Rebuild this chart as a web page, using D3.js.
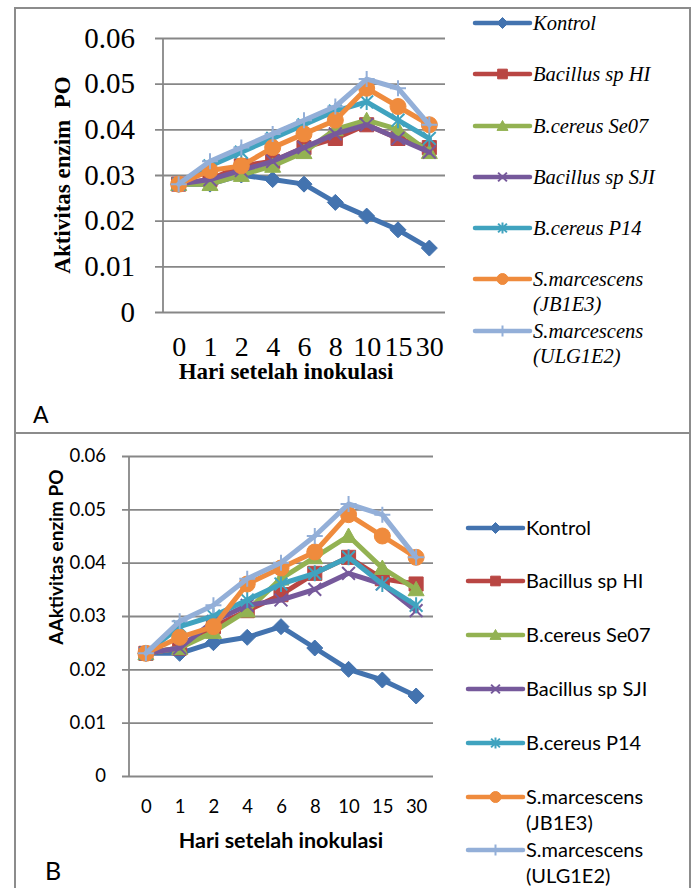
<!DOCTYPE html>
<html>
<head>
<meta charset="utf-8">
<script src="https://cdn.jsdelivr.net/npm/d3@7"></script>
<style>
  body { margin: 0; background: #fff; }
  svg { display: block; }
</style>
</head>
<body>
<svg id="chart" width="696" height="888"></svg>
<script>
// Aktivitas enzim PO, two panels (A and B), 7 series each

const days = ["0", "1", "2", "4", "6", "8", "10", "15", "30"];
const yTicks = [0, 0.01, 0.02, 0.03, 0.04, 0.05, 0.06];

const seriesNames = ["Kontrol", "Bacillus sp HI", "B.cereus Se07", "Bacillus sp SJI",
    "B.cereus P14", "S.marcescens (JB1E3)", "S.marcescens (ULG1E2)"];
const seriesColors = ["#4373AF", "#B94643", "#93B252", "#76599B", "#40A3BF", "#EF8B3D", "#93AFD8"];
const seriesMarkers = ["diamond", "square", "triangle", "x", "star", "circle", "plus"];

// Panel A values
const aKontrol = [0.028, 0.028, 0.030, 0.029, 0.028, 0.024, 0.021, 0.018, 0.014];
const aHI      = [0.028, 0.029, 0.032, 0.033, 0.036, 0.038, 0.041, 0.038, 0.036];
const aSe07    = [0.028, 0.028, 0.030, 0.032, 0.035, 0.040, 0.042, 0.040, 0.035];
const aSJI     = [0.028, 0.029, 0.031, 0.033, 0.036, 0.039, 0.041, 0.038, 0.035];
const aP14     = [0.028, 0.032, 0.035, 0.038, 0.041, 0.044, 0.046, 0.042, 0.038];
const aJB1E3   = [0.028, 0.031, 0.032, 0.036, 0.039, 0.042, 0.049, 0.045, 0.041];
const aULG1E2  = [0.028, 0.033, 0.036, 0.039, 0.042, 0.045, 0.051, 0.049, 0.041];

// Panel B values
const bKontrol = [0.023, 0.023, 0.025, 0.026, 0.028, 0.024, 0.020, 0.018, 0.015];
const bHI      = [0.023, 0.024, 0.028, 0.031, 0.034, 0.038, 0.041, 0.037, 0.036];
const bSe07    = [0.023, 0.024, 0.027, 0.031, 0.037, 0.041, 0.045, 0.039, 0.035];
const bSJI     = [0.023, 0.024, 0.029, 0.032, 0.033, 0.035, 0.038, 0.036, 0.031];
const bP14     = [0.023, 0.028, 0.030, 0.033, 0.036, 0.038, 0.041, 0.036, 0.032];
const bJB1E3   = [0.023, 0.026, 0.028, 0.036, 0.039, 0.042, 0.049, 0.045, 0.041];
const bULG1E2  = [0.023, 0.029, 0.032, 0.037, 0.040, 0.045, 0.051, 0.049, 0.041];

const svg = d3.select("#chart");
const gray = "#878787";
const serif = "'Liberation Serif', 'Times New Roman', Times, 'DejaVu Serif', serif";

// outer frames of the two panels
svg.append("rect").attr("x", 15).attr("y", 8).attr("width", 675).attr("height", 425)
    .attr("fill", "none").attr("stroke", "#8c8c8c").attr("stroke-width", 2);
svg.append("rect").attr("x", 15).attr("y", 433).attr("width", 675).attr("height", 480)
    .attr("fill", "none").attr("stroke", "#8c8c8c").attr("stroke-width", 2);

// marker path for a given type, r = half size
function markerPath(type, r) {
    const p = d3.path();
    if (type === "diamond") {
        p.moveTo(0, -r); p.lineTo(r, 0); p.lineTo(0, r); p.lineTo(-r, 0); p.closePath();
    } else if (type === "square") {
        p.rect(-r * 0.88, -r * 0.88, r * 1.76, r * 1.76);
    } else if (type === "triangle") {
        p.moveTo(0, -r); p.lineTo(r, r * 0.8); p.lineTo(-r, r * 0.8); p.closePath();
    } else if (type === "circle") {
        p.arc(0, 0, r, 0, 2 * Math.PI);
    } else if (type === "x") {
        const s = r * 0.8;
        p.moveTo(-s, -s); p.lineTo(s, s); p.moveTo(-s, s); p.lineTo(s, -s);
    } else if (type === "star") {
        const s = r * 0.8;
        p.moveTo(-s, -s); p.lineTo(s, s); p.moveTo(-s, s); p.lineTo(s, -s);
        p.moveTo(0, -r); p.lineTo(0, r);
    } else if (type === "plus") {
        p.moveTo(-r, 0); p.lineTo(r, 0); p.moveTo(0, -r); p.lineTo(0, r);
    }
    return p.toString();
}

function isStroked(type) {
    return type === "x" || type === "star" || type === "plus";
}

function drawMarker(g, type, color, r, cx, cy) {
    g.append("path")
        .attr("transform", `translate(${cx},${cy})`)
        .attr("d", markerPath(type, r))
        .attr("fill", isStroked(type) ? "none" : color)
        .attr("stroke", color)
        .attr("stroke-width", isStroked(type) ? 2 : 1);
}

function drawPanel(cfg) {
    const g = svg.append("g");

    const x = d3.scalePoint().domain(days).range([cfg.left, cfg.right]).padding(0.5);
    const y = d3.scaleLinear().domain([0, 0.06]).range([cfg.bottom, cfg.top]);

    // y axis with gridlines
    const yAxis = d3.axisLeft(y)
        .tickValues(yTicks)
        .tickSize(cfg.tickLen)
        .tickPadding(cfg.yPad)
        .tickFormat(d => d === 0 ? "0" : d3.format(".2f")(d));
    const ya = g.append("g").attr("transform", `translate(${cfg.left},0)`).call(yAxis);
    ya.attr("font-family", cfg.font).attr("font-size", cfg.tickSize);
    ya.select(".domain").remove();
    ya.selectAll("line").attr("x1", cfg.right - cfg.left).attr("stroke", gray).attr("stroke-width", 1.8);
    ya.selectAll("text").style("font-family", cfg.font).attr("fill", "#000");

    g.append("line")
        .attr("x1", cfg.left).attr("x2", cfg.left)
        .attr("y1", cfg.top).attr("y2", cfg.bottom)
        .attr("stroke", gray).attr("stroke-width", 1.8);

    // x axis labels
    const xa = g.append("g").attr("transform", `translate(0,${cfg.bottom})`)
        .call(d3.axisBottom(x).tickSize(0).tickPadding(cfg.xPad));
    xa.attr("font-family", cfg.font).attr("font-size", cfg.xTickSize);
    xa.select(".domain").remove();
    xa.selectAll("text").style("font-family", cfg.font).attr("fill", "#000");

    // axis titles
    g.append("text")
        .attr("x", cfg.xTitleX).attr("y", cfg.xTitleY)
        .attr("text-anchor", "middle")
        .style("font-family", cfg.font).attr("font-weight", "bold")
        .attr("font-size", cfg.titleSize)
        .text("Hari setelah inokulasi");

    g.append("text")
        .attr("transform", `translate(${cfg.yTitleX},${cfg.yTitleY}) rotate(-90)`)
        .attr("text-anchor", "middle")
        .style("font-family", cfg.font).attr("font-weight", "bold")
        .attr("font-size", cfg.yTitleSize)
        .attr("xml:space", "preserve")
        .text(cfg.yTitle);

    // series lines and markers
    const line = d3.line().x((d, i) => x(days[i])).y(d => y(d));
    cfg.series.forEach((vals, si) => {
        const color = seriesColors[si];
        const sg = g.append("g");
        sg.append("path")
            .datum(vals)
            .attr("d", line)
            .attr("fill", "none")
            .attr("stroke", color)
            .attr("stroke-width", 5)
            .attr("stroke-linejoin", "round")
            .attr("stroke-linecap", "round");
        vals.forEach((v, i) => drawMarker(sg, seriesMarkers[si], color, 8, x(days[i]), y(v)));
    });

    // legend
    const lg = g.append("g");
    seriesNames.forEach((name, si) => {
        const ly = cfg.legendY[si];
        const color = seriesColors[si];
        lg.append("line")
            .attr("x1", cfg.legendX).attr("x2", cfg.legendX + 55)
            .attr("y1", ly).attr("y2", ly)
            .attr("stroke", color).attr("stroke-width", 4.5)
            .attr("stroke-linecap", "round");
        drawMarker(lg, seriesMarkers[si], color, 5.5, cfg.legendX + 27.5, ly);
        const parts = name.split(" (");
        const t = lg.append("text")
            .attr("x", cfg.legendX + 58).attr("y", ly)
            .attr("dy", "0.35em")
            .style("font-family", cfg.font)
            .style("font-style", cfg.legendStyle)
            .attr("font-size", cfg.legendSize);
        t.append("tspan").text(parts[0]);
        if (parts.length > 1) {
            t.append("tspan").attr("x", cfg.legendX + 58).attr("dy", cfg.legendLine)
                .text("(" + parts[1]);
        }
    });

    // panel letter
    g.append("text")
        .attr("x", cfg.letterX).attr("y", cfg.letterY)
        .style("font-family", "Lato").attr("font-size", cfg.letterSize)
        .text(cfg.letter);
}

drawPanel({
    series: [aKontrol, aHI, aSe07, aSJI, aP14, aJB1E3, aULG1E2],
    left: 163, right: 445, top: 38, bottom: 312,
    tickLen: 8, yPad: 20, xPad: 24,
    font: serif, tickSize: 29, xTickSize: 28, titleSize: 23, yTitleSize: 23,
    xTitleX: 286, xTitleY: 379,
    yTitleX: 70, yTitleY: 175, yTitle: "Aktivitas enzim  PO",
    legendX: 475, legendY: [23, 74, 126, 177, 228, 279, 331],
    legendSize: 20.5, legendStyle: "italic", legendLine: 25,
    letter: "A", letterX: 33, letterY: 423, letterSize: 23
});

drawPanel({
    series: [bKontrol, bHI, bSe07, bSJI, bP14, bJB1E3, bULG1E2],
    left: 129, right: 433, top: 456, bottom: 776,
    tickLen: 7, yPad: 16, xPad: 24,
    font: "Lato", tickSize: 18.5, xTickSize: 18.5, titleSize: 21.5, yTitleSize: 19,
    xTitleX: 281, xTitleY: 848,
    yTitleX: 63, yTitleY: 557, yTitle: "AAktivitas enzim PO",
    legendX: 468, legendY: [528, 581, 635, 689, 743, 797, 850],
    legendSize: 20, legendStyle: "normal", legendLine: 26,
    letter: "B", letterX: 45, letterY: 880, letterSize: 25
});
</script>
</body>
</html>
